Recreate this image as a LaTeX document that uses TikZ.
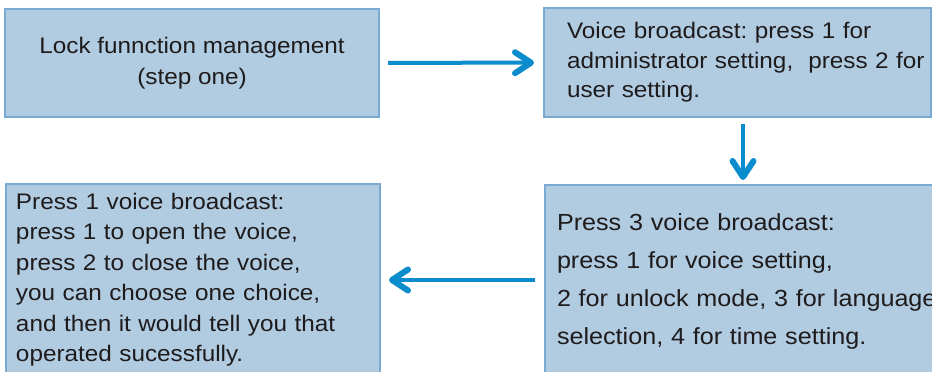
\documentclass[tikz,border=0pt]{standalone}
\usepackage{fontspec}
\usepackage{tikz}
\usetikzlibrary{arrows.meta, calc}
\newfontfamily\boxfont[FakeStretch=1.08]{Liberation Sans}
\definecolor{boxfill}{RGB}{177,203,225}
\definecolor{boxline}{RGB}{122,170,210}
\definecolor{flowblue}{RGB}{10,140,205}
\definecolor{inkgray}{RGB}{30,27,28}
\frenchspacing

\begin{document}
\begin{tikzpicture}[x=1pt, y=1pt,
    stepbox/.style={draw=boxline, fill=boxfill, line width=2pt, align=left, text=inkgray},
    flow/.style={draw=flowblue, line width=4pt,
        -{Straight Barb[length=16pt, width=21pt, line width=6pt, round]},
        shorten <=8pt, shorten >=9pt}]
    \useasboundingbox (0,0) rectangle (932,372);
    \clip (0,0) rectangle (932,372);
    \node[stepbox, align=center, minimum width=374, minimum height=108,
        font=\boxfont\fontsize{22.5}{30.5}\selectfont] (lockmgmt) at (192,309)
        {Lock funnction management\\(step one)};
    \node[stepbox, minimum height=109, text width=341, inner xsep=23pt,
        font=\boxfont\fontsize{22.5}{29.5}\selectfont] (broadcast) at (737.5,309.5)
        {Voice broadcast: press 1 for\\\mbox{administrator setting,~ press 2 for}\\user setting.};
    \node[stepbox, anchor=north west, text width=400, inner xsep=12pt, inner ysep=29pt,
        font=\boxfont\fontsize{23.3}{37.8}\selectfont] (sysmenu) at (544,188)
        {Press 3 voice broadcast:\\press 1 for voice setting,\\2 for unlock mode, 3 for language\\selection, 4 for time setting.};
    \node[stepbox, anchor=north west, text width=354, inner xsep=10pt, inner ysep=9pt,
        font=\boxfont\fontsize{22.5}{30.5}\selectfont] (voicemenu) at (5,189)
        {Press 1 voice broadcast:\\press 1 to open the voice,\\press 2 to close the voice,\\you can choose one choice,\\and then it would tell you that\\operated sucessfully.};
    \draw[flow] (lockmgmt) -- (broadcast);
    \coordinate (drop) at ([xshift=5.5pt]broadcast.south);
    \draw[flow, shorten <=6pt, shorten >=4pt] (drop) -- (drop |- sysmenu.north);
    \coordinate (back) at ([yshift=-96pt]sysmenu.north west);
    \draw[flow, shorten <=9pt, shorten >=8pt] (back) -- (back -| voicemenu.east);
\end{tikzpicture}
\end{document}
